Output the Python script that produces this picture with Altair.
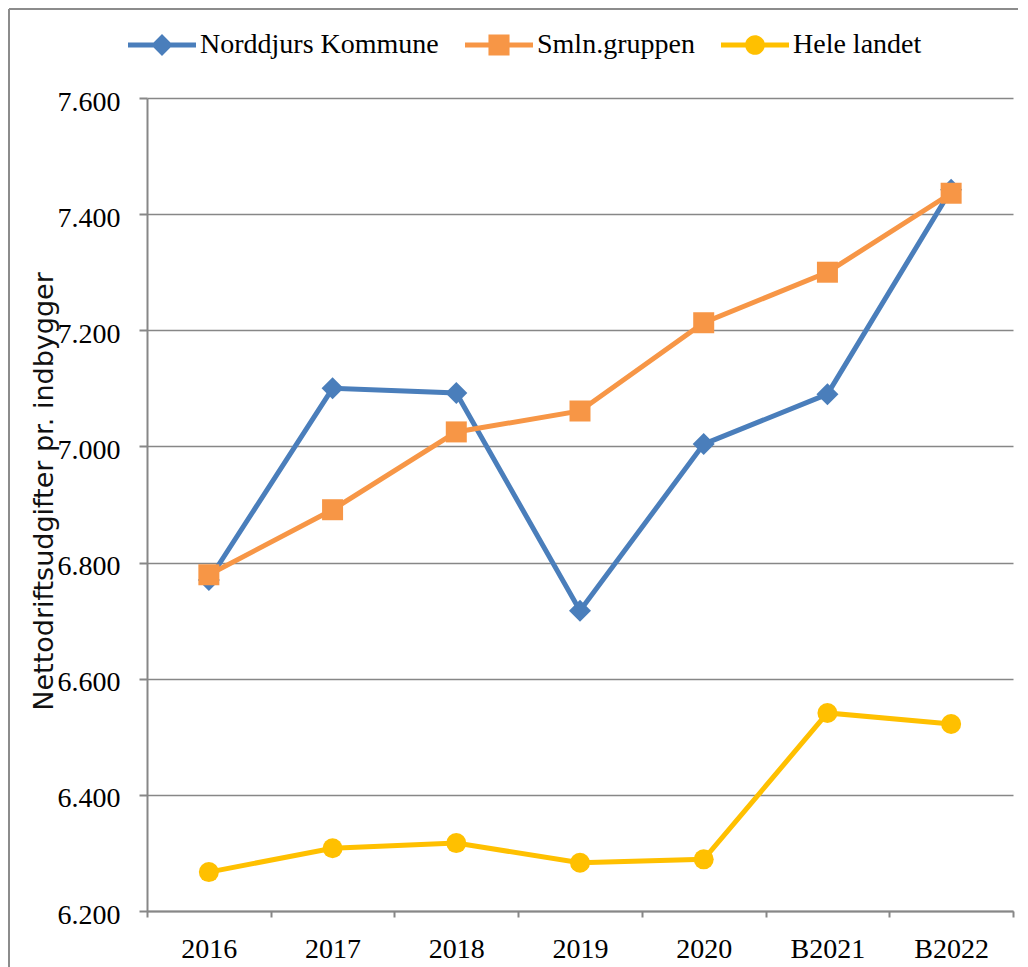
import altair as alt
import pandas as pd

years = ["2016", "2017", "2018", "2019", "2020", "B2021", "B2022"]
norddjurs = [6770, 7100, 7092, 6717, 7004, 7090, 7442]
smln = [6779, 6891, 7025, 7061, 7213, 7300, 7436]
hele = [6267, 6308, 6317, 6283, 6289, 6541, 6522]
series_names = ["Norddjurs Kommune", "Smln.gruppen", "Hele landet"]
series_values = [norddjurs, smln, hele]
y_ticks = [6200, 6400, 6600, 6800, 7000, 7200, 7400, 7600]

colors = ["#4A7EBB", "#F79646", "#FFC000"]
marker_shapes = ["diamond", "square", "circle"]
marker_sizes = [484, 441, 400]
legend_paths = [
    "M-1,-0.074H1V0.074H-1Z M0,-0.32L0.32,0L0,0.32L-0.32,0Z",
    "M-1,-0.074H1V0.074H-1Z M-0.31,-0.31H0.31V0.31H-0.31Z",
    "M-1,-0.074H1V0.074H-1Z M-0.29,0A0.29,0.29 0 1,1 0.29,0A0.29,0.29 0 1,1 -0.29,0Z",
]

rows = [
    {"year": y, "series": s, "value": v}
    for s, vals in zip(series_names, series_values)
    for y, v in zip(years, vals)
]
df = pd.DataFrame(rows)

W, H = 866, 813
GRAY = "#878787"
SERIF = "Liberation Serif"

x_enc = alt.X(
    "year:N",
    sort=years,
    scale=alt.Scale(type="band", paddingInner=0, paddingOuter=0),
    axis=alt.Axis(
        title=None,
        tickBand="extent",
        labelAngle=0,
        labelFont=SERIF,
        labelFontSize=28,
        labelColor="black",
        labelPadding=18,
        tickSize=6,
        tickColor=GRAY,
        tickWidth=2,
        domainColor=GRAY,
        domainWidth=2,
        grid=False,
    ),
)
y_enc = alt.Y(
    "value:Q",
    scale=alt.Scale(domain=[6200, 7600], nice=False, zero=False),
    axis=alt.Axis(
        values=y_ticks,
        labelExpr="replace(format(datum.value, ','), ',', '.')",
        title="Nettodriftsudgifter pr. indbygger",
        titleFont="DejaVu Sans",
        titleFontSize=27,
        titleFontWeight="normal",
        titleColor="#111111",
        titleAngle=270,
        titleX=-95,
        titleY=393,
        titleAlign="center",
        titleBaseline="alphabetic",
        labelFont=SERIF,
        labelFontSize=28,
        labelColor="black",
        labelPadding=19,
        labelOffset=4,
        tickSize=8,
        tickColor=GRAY,
        tickWidth=2,
        domainColor=GRAY,
        domainWidth=2,
        grid=True,
        gridColor=GRAY,
        gridWidth=1.5,
    ),
)

frame_data = alt.Data(values=[{"k": 1}])
frame_left = alt.Chart(frame_data).mark_rule(color="#8c8c8c", strokeWidth=2).encode(
    x=alt.value(-138), y=alt.value(-89), y2=alt.value(H + 80)
)
frame_top = alt.Chart(frame_data).mark_rule(color="#8c8c8c", strokeWidth=2).encode(
    x=alt.value(-138), x2=alt.value(W + 20), y=alt.value(-89)
)

layers = [frame_left, frame_top]
for i, s in enumerate(series_names):
    sub = alt.Chart(df).transform_filter(alt.datum.series == s)
    layers.append(
        sub.mark_line(color=colors[i], strokeWidth=5).encode(x=x_enc, y=y_enc)
    )
    layers.append(
        sub.mark_point(
            filled=True,
            shape=marker_shapes[i],
            size=marker_sizes[i],
            color=colors[i],
            opacity=1,
            strokeWidth=0,
        ).encode(x=x_enc, y=y_enc)
    )

leg = dict(
    title=None,
    orient="none",
    legendX=-19,
    legendY=-87,
    direction="horizontal",
    labelFont=SERIF,
    labelFontSize=28,
    labelColor="black",
    labelOffset=4,
    labelLimit=500,
    labelBaseline="middle",
    columnPadding=26,
    symbolSize=4624,
    symbolStrokeWidth=0,
    padding=0,
)
legend_layer = (
    alt.Chart(df)
    .transform_filter("false")
    .mark_point(filled=True, size=4624, strokeWidth=0, opacity=1)
    .encode(
        x=x_enc,
        y=y_enc,
        color=alt.Color(
            "series:N",
            scale=alt.Scale(domain=series_names, range=colors),
            legend=alt.Legend(**leg),
        ),
        shape=alt.Shape(
            "series:N",
            scale=alt.Scale(domain=series_names, range=legend_paths),
            legend=alt.Legend(**leg),
        ),
    )
)
layers.append(legend_layer)

chart = (
    alt.layer(*layers)
    .properties(
        width=W,
        height=H,
        padding={"left": 139, "top": 90, "right": 5, "bottom": 58},
        autosize=alt.AutoSizeParams(type="none"),
        background="white",
    )
    .configure_view(strokeWidth=0)
)

chart.save("out.html", embed_options={"renderer": "svg", "actions": False})
